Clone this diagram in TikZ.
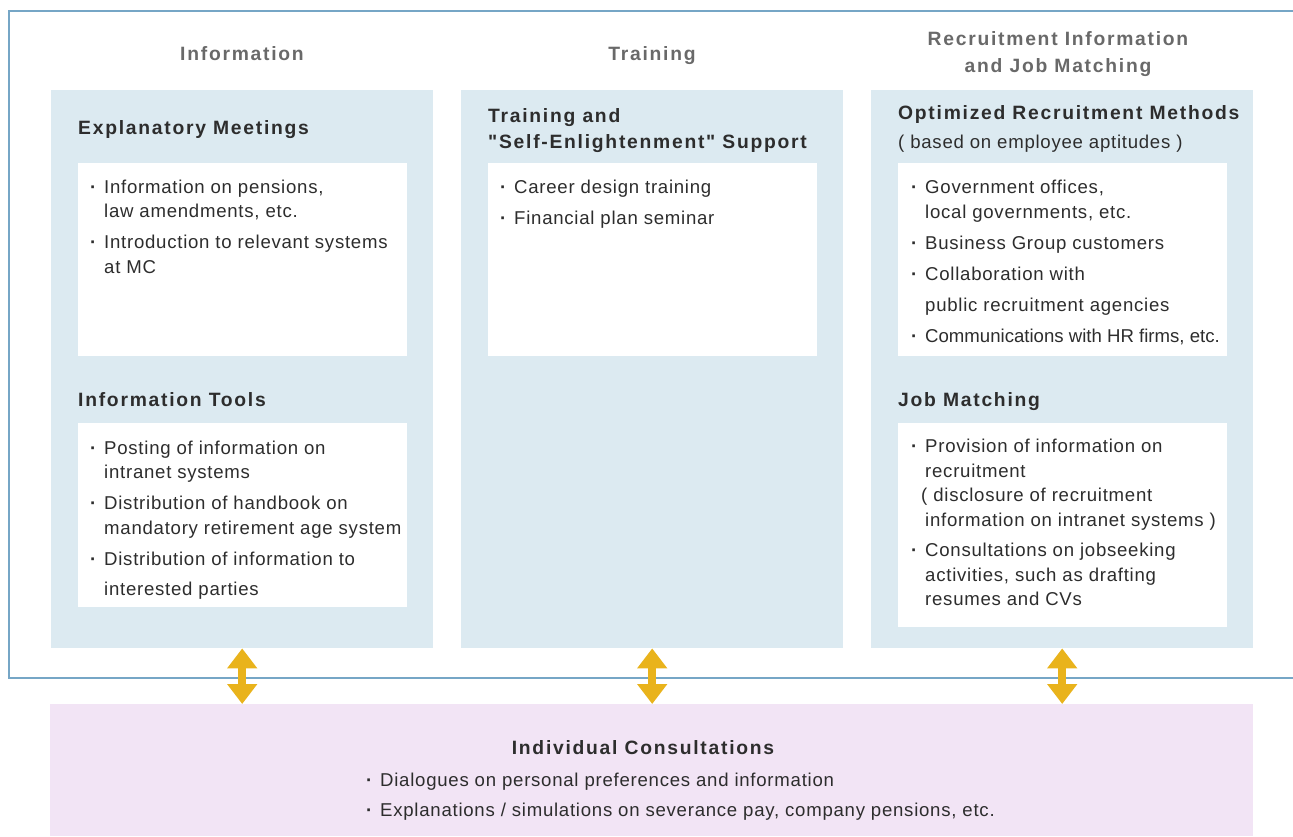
\documentclass[tikz,border=0pt]{standalone}
\usepackage{fontspec}
\setmainfont{Liberation Sans}[LetterSpace=4]
\newfontfamily\hdfont{Liberation Sans}[LetterSpace=9]
\usetikzlibrary{arrows.meta}
\definecolor{framec}{RGB}{118,166,198}
\definecolor{panelc}{RGB}{220,234,241}
\definecolor{pinkc}{RGB}{242,228,245}
\definecolor{arrowc}{RGB}{233,179,28}
\definecolor{textc}{RGB}{45,45,45}
\definecolor{headc}{RGB}{105,105,105}
\newcommand\bul{\llap{{\bfseries\textperiodcentered}\hspace{8pt}}}
\tikzset{
  frameline/.style={draw=framec,line width=2.4pt},
  panel/.style={fill=panelc,inner sep=0pt,anchor=north west},
  pinkbox/.style={fill=pinkc,inner sep=0pt,anchor=north west},
  wbox/.style={fill=white,inner sep=0pt,anchor=north west},
  body/.style={anchor=base west,align=left,inner sep=0pt,text=textc,font=\fontsize{18.6}{24.5}\selectfont},
  title/.style={anchor=base west,align=left,inner sep=0pt,text=textc,font=\hdfont\bfseries\fontsize{19.3}{26}\selectfont},
  colhead/.style={anchor=base,align=center,inner sep=0pt,text=headc,font=\hdfont\bfseries\fontsize{19.3}{26.6}\selectfont},
  dbl/.style={draw=arrowc,line width=8pt,{Triangle[width=29pt,length=20pt]}-{Triangle[width=29pt,length=20pt]}}
}
\begin{document}
\begin{tikzpicture}[x=1pt,y=-1pt]
\useasboundingbox (0,0) rectangle (1293,836);
% outer frame
\draw[frameline] (1293,11) -| (9,678) -- (1293,678);
% column headers (multi-line nodes are placed by their last baseline)
\node[colhead] (hinfo) at (242,60) {Information};
\node[colhead] (htrain) at (652,60) {Training};
\node[colhead] (hrec) at (1058,72.3) {Recruitment Information\\and Job Matching};
% panels
\node[panel,minimum width=382pt,minimum height=558pt] (col1) at (51,90) {};
\node[panel,minimum width=382pt,minimum height=558pt] (col2) at (461,90) {};
\node[panel,minimum width=382pt,minimum height=558pt] (col3) at (871,90) {};
% column 1
\node[title] (t11) at (78,134) {Explanatory Meetings};
\node[wbox,minimum width=329pt,minimum height=193pt] (b11) at (78,163) {};
\node[body] (l11) at (104,273.3) {\bul Information on pensions,\\
law amendments, etc.\\[6.5pt]
\bul Introduction to relevant systems\\
at MC};
\node[title] (t12) at (78,406) {Information Tools};
\node[wbox,minimum width=329pt,minimum height=184pt] (b12) at (78,423) {};
\node[body] (l12) at (104,595.7) {\bul Posting of information on\\
intranet systems\\[6.5pt]
\bul Distribution of handbook on\\
mandatory retirement age system\\[6.5pt]
\bul Distribution of information to\\[6.2pt]
interested parties};
% column 2
\node[title] (t21) at (488,148) {Training and\\"Self-Enlightenment" Support};
\node[wbox,minimum width=329pt,minimum height=193pt] (b21) at (488,163) {};
\node[body] (l21) at (514,224) {\bul Career design training\\[6.5pt]
\bul Financial plan seminar};
% column 3
\node[title] (t31) at (898,119) {Optimized Recruitment Methods};
\node[body] (t31b) at (898,148.3) {( based on employee aptitudes )};
\node[wbox,minimum width=329pt,minimum height=193pt] (b31) at (898,163) {};
\node[body] (l31) at (925,342) {\bul Government offices,\\
local governments, etc.\\[6.5pt]
\bul Business Group customers\\[6.5pt]
\bul Collaboration with\\[6.5pt]
public recruitment agencies\\[6.5pt]
{\addfontfeature{LetterSpace=0}\bul Communications with HR firms, etc.}};
\node[title] (t32) at (898,406) {Job Matching};
\node[wbox,minimum width=329pt,minimum height=204pt] (b32) at (898,423) {};
\node[body] (l32) at (925,605.7) {\bul Provision of information on\\
recruitment\\
\hspace*{-4pt}( disclosure of recruitment\\
information on intranet systems )\\[6pt]
\bul Consultations on jobseeking\\
activities, such as drafting\\
resumes and CVs};
% bottom box
\node[pinkbox,minimum width=1203pt,minimum height=132pt] (cons) at (50,704) {};
\node[title,anchor=base] (tcons) at (643,754) {Individual Consultations};
\node[body] (lcons) at (380,816.7) {\bul Dialogues on personal preferences and information\\[5.5pt]
\bul Explanations / simulations on severance pay, company pensions, etc.};
% arrows
\draw[dbl] (col1.south) -- (col1.south |- cons.north);
\draw[dbl] (col2.south) -- (col2.south |- cons.north);
\draw[dbl] (col3.south) -- (col3.south |- cons.north);
\end{tikzpicture}
\end{document}
